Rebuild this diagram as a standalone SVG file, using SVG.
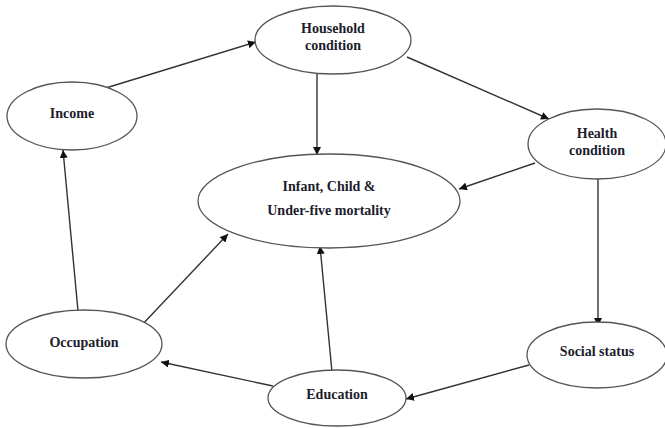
<svg xmlns="http://www.w3.org/2000/svg" width="665" height="428" viewBox="0 0 665 428">
<style>
.n ellipse{fill:#fff;stroke:#555;stroke-width:1.3}
.n text{font-family:"Liberation Serif","Times New Roman","DejaVu Serif",serif;font-weight:bold;font-size:14px;fill:#1c1c2c;text-anchor:middle}
.c line{stroke:#333;stroke-width:1.4;marker-end:url(#ah)}
</style>
<defs>
<marker id="ah" viewBox="0 0 10 10" refX="10" refY="5" markerWidth="8" markerHeight="8" markerUnits="userSpaceOnUse" orient="auto">
<path d="M0,0 L10,5 L0,10 z" fill="#111"/>
</marker>
</defs>
<rect width="665" height="428" fill="#fff"/>
<g id="connectors" class="c">
<line x1="96" y1="91" x2="256" y2="42"/>
<line x1="407" y1="57" x2="549" y2="119"/>
<line x1="317" y1="74" x2="317" y2="155"/>
<line x1="535" y1="163" x2="459" y2="189"/>
<line x1="598" y1="178" x2="598" y2="326"/>
<line x1="529" y1="365" x2="406" y2="399"/>
<line x1="273" y1="386" x2="161" y2="362"/>
<line x1="332" y1="372" x2="320" y2="246"/>
<line x1="140" y1="327" x2="228" y2="234"/>
<line x1="78" y1="311" x2="63" y2="150"/>
</g>
<g id="household" class="n">
<ellipse cx="333" cy="40" rx="78" ry="34"/>
<text x="333" y="33">Household</text>
<text x="333" y="50">condition</text>
</g>
<g id="income" class="n">
<ellipse cx="72" cy="116" rx="65" ry="34"/>
<text x="72" y="118">Income</text>
</g>
<g id="health" class="n">
<ellipse cx="597" cy="144" rx="69" ry="35"/>
<text x="597" y="138">Health</text>
<text x="597" y="155">condition</text>
</g>
<g id="infant" class="n">
<ellipse cx="329" cy="201" rx="131" ry="47"/>
<text x="329" y="191">Infant, Child &amp;</text>
<text x="329" y="215">Under-five mortality</text>
</g>
<g id="occupation" class="n">
<ellipse cx="84" cy="344" rx="78" ry="34"/>
<text x="84" y="347">Occupation</text>
</g>
<g id="social" class="n">
<ellipse cx="597" cy="355" rx="70" ry="33"/>
<text x="597" y="356">Social status</text>
</g>
<g id="education" class="n">
<ellipse cx="337" cy="398" rx="69" ry="28"/>
<text x="337" y="399">Education</text>
</g>
</svg>
